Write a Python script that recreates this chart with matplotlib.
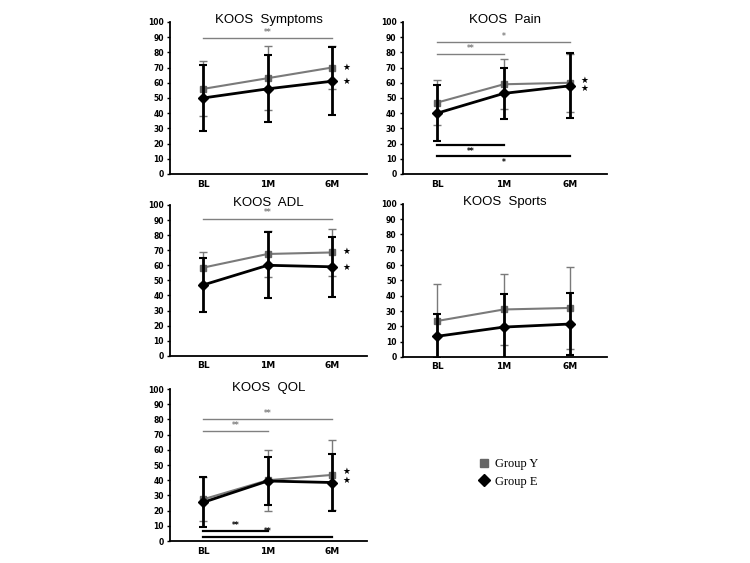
import matplotlib
matplotlib.use('Agg')
import matplotlib.pyplot as plt
from matplotlib.lines import Line2D
import numpy as np

# данные
timepoints = ['BL', '1M', '6M']
panel_titles = ['KOOS  Symptoms', 'KOOS  Pain', 'KOOS  ADL', 'KOOS  Sports', 'KOOS  QOL']

group_y_mean = [[56, 63, 70], [47, 59, 60], [58.5, 67.5, 68.5], [23.5, 31, 32], [27.5, 40, 43.5]]
group_y_sd = [[18, 21, 14], [14.5, 16.5, 19], [10, 15.5, 15.5], [24, 23, 27], [14.5, 20, 23]]
group_e_mean = [[50, 56, 61], [40, 53, 58], [47, 60, 59], [13.5, 19.5, 21.5], [25.5, 39.5, 38.5]]
group_e_sd = [[22, 22, 22.5], [18.5, 17, 21.5], [18, 22, 20], [14.5, 21.5, 20], [16.5, 15.5, 19]]

# значимость: панель, от, до, уровень, метка, цвет
sig_panel = [0, 1, 1, 1, 1, 2, 4, 4, 4, 4]
sig_from = [0, 0, 0, 0, 0, 0, 0, 0, 0, 0]
sig_to = [2, 2, 1, 1, 2, 2, 2, 1, 1, 2]
sig_level = [89.5, 87, 79, 19, 12, 91, 80, 72.5, 6.5, 2.5]
sig_label = ['**', '*', '**', '**', '*', '**', '**', '**', '**', '**']
sig_color = ['grey', 'grey', 'grey', 'k', 'k', 'grey', 'grey', 'grey', 'k', 'k']

# звёздочки у 6M
star_levels = [[70, 61], [61.5, 56], [69, 58.5], [], [45.5, 40]]

gray = '#7a7a7a'
dark_gray = '#666666'

fig = plt.figure(figsize=(7.5, 5.63), dpi=100)

positions = [
    [0.2267, 0.691, 0.263, 0.270],
    [0.537, 0.691, 0.272, 0.270],
    [0.2267, 0.368, 0.263, 0.268],
    [0.537, 0.366, 0.272, 0.272],
    [0.2267, 0.039, 0.263, 0.270],
]

x = np.arange(len(timepoints))

for i, pos in enumerate(positions):
    ax = fig.add_axes(pos)

    # группа Y (серый, квадрат)
    ax.errorbar(x, group_y_mean[i], yerr=group_y_sd[i], color=gray, ecolor=gray,
                elinewidth=1.0, capsize=3, capthick=1.0, lw=1.5,
                marker='s', markersize=5, mfc=dark_gray, mec=dark_gray, zorder=3)
    # группа E (чёрный, ромб)
    ax.errorbar(x, group_e_mean[i], yerr=group_e_sd[i], color='k', ecolor='k',
                elinewidth=2.0, capsize=3, capthick=1.5, lw=2.0,
                marker='D', markersize=5, mfc='k', mec='k', zorder=4)

    for j in range(len(sig_panel)):
        if sig_panel[j] != i:
            continue
        c = sig_color[j]
        lw = 1.0 if c == 'grey' else 1.6
        ax.plot([x[sig_from[j]], x[sig_to[j]]], [sig_level[j], sig_level[j]], color=c, lw=lw)
        xm = (x[sig_from[j]] + x[sig_to[j]]) / 2
        if c == 'grey' or i == 4:
            ax.text(xm, sig_level[j] + 0.8, sig_label[j], ha='center', va='bottom',
                    fontsize=5.5, color=c, fontweight='bold')
        else:
            ax.text(xm, sig_level[j] - 1.5, sig_label[j], ha='center', va='top',
                    fontsize=5.5, color=c, fontweight='bold')

    for yv in star_levels[i]:
        ax.text(2.22, yv, '★', ha='center', va='center', fontsize=6.3, color='k')

    ax.set_xlim(-0.52, 2.55)
    ax.set_ylim(0, 100)
    ax.set_yticks(np.arange(0, 101, 10))
    ax.set_xticks(x)
    ax.set_xticklabels(timepoints, fontsize=6.5, fontweight='bold')
    for lab in ax.get_yticklabels():
        lab.set_fontsize(5.5)
        lab.set_fontweight('bold')
    ax.tick_params(axis='y', length=2.5, width=1, pad=2)
    ax.tick_params(axis='x', length=0, pad=4)
    for s in ['top', 'right']:
        ax.spines[s].set_visible(False)
    ax.spines['left'].set_linewidth(1.3)
    ax.spines['bottom'].set_linewidth(1.3)

    ax.text(0.5, 0.99, panel_titles[i], transform=ax.transAxes, ha='center',
            va='baseline', fontsize=9.5, family='Liberation Sans')

handles = [
    Line2D([], [], ls='none', marker='s', markersize=6, mfc=dark_gray, mec=dark_gray),
    Line2D([], [], ls='none', marker='D', markersize=6, mfc='k', mec='k'),
]
fig.legend(handles, ['Group Y', 'Group E'], loc='center left',
           bbox_to_anchor=(0.622, 0.16), frameon=False, handlelength=1.0,
           handletextpad=0.4, labelspacing=0.45,
           prop={'family': 'Liberation Serif', 'size': 9})

fig.savefig('out.png', dpi=100)
